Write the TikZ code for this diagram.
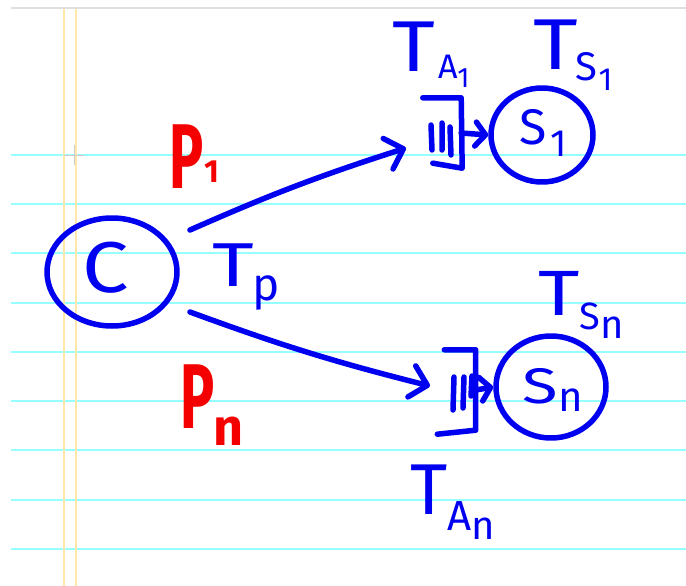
\documentclass[tikz,border=0pt]{standalone}
\usepackage{fontspec}
\setmainfont{Fira Sans}
\usetikzlibrary{arrows.meta,shapes.geometric}
\definecolor{ink}{RGB}{0,0,240}
\definecolor{redink}{RGB}{245,0,0}
\definecolor{ruleline}{RGB}{150,255,255}
\definecolor{marginline}{RGB}{255,232,170}
\newcommand{\fsz}[1]{\fontsize{#1}{#1}\selectfont}
\begin{document}
\begin{tikzpicture}[x=1pt,y=-1pt,
  pen/.style={draw=ink, line width=5.5pt, line cap=round, line join=round},
  arr/.style={pen, -{Straight Barb[length=16pt,width=32pt,line cap=round,line join=round]}},
  sarr/.style={pen, -{Straight Barb[length=10pt,width=24pt,line cap=round,line join=round]}},
  server/.style={pen, ellipse, inner sep=0pt},
  queuebox/.style={inner sep=0pt, minimum width=#1},
  lbl/.style={text=ink, inner sep=0pt, font=\mdseries},
  plbl/.style={text=redink, inner sep=0pt, font=\bfseries}]
\fill[white] (0,0) rectangle (686,586);
\useasboundingbox (0,0) rectangle (686,586);
% paper
\draw[gray!25, line width=1.5pt] (11,8) -- (686,8);
\foreach \yy in {155,204,253,303,352,401,450,500,549}
  \draw[ruleline, line width=1.5pt] (11,\yy) -- (686,\yy);
\draw[marginline, line width=1.5pt] (64,9) -- (64,586);
\draw[marginline, line width=1.5pt] (76,9) -- (76,586);
\draw[gray!40, line width=1pt] (64,155) -- (84,155) (74,145) -- (74,165);
% client
\node (c) [server, minimum width=130pt, minimum height=108pt] at (112,272) {};
\node (ct) [lbl] at (106,268) {\fsz{72}\scalebox{1.15}[1]{C}};
% servers
\node (s1) [server, minimum width=102pt, minimum height=94pt] at (542,135) {};
\node (s1t) [lbl] at (543,133) {\fsz{50}S\hspace{4pt}\raisebox{-12pt}{\fsz{38}1}};
\node (sn) [server, minimum width=110pt, minimum height=102pt] at (551,387) {};
\node (snt) [lbl] at (553,390) {\fsz{50}\scalebox{1.3}[1]{S}\raisebox{-8pt}{\fsz{42}n}};
% queues
\node (q1) [queuebox=38pt, minimum height=70pt] at (442,133) {};
\draw[pen] (q1.north west) -- (q1.north east) -- ([xshift=1pt]q1.south east) -- ([xshift=10pt,yshift=5pt]q1.south west);
\draw[pen] ([xshift=-10pt,yshift=-17pt]q1.center) -- ([xshift=-11pt,yshift=8pt]q1.center)
           ([xshift=0pt,yshift=-17pt]q1.center) -- ([xshift=0pt,yshift=10pt]q1.center)
           ([xshift=9pt,yshift=-22pt]q1.center) -- ([xshift=8pt,yshift=6pt]q1.center);
\node (qn) [queuebox=31pt, minimum height=80pt] at (460,390) {};
\draw[pen] (qn.north west) -- (qn.north east) -- (qn.south east) -- ([xshift=-7pt,yshift=-4pt]qn.south west);
\draw[pen] ([xshift=-7pt,yshift=-20pt]qn.center) -- ([xshift=-6pt,yshift=13pt]qn.center)
           ([xshift=3pt,yshift=-18pt]qn.center) -- ([xshift=4pt,yshift=13pt]qn.center)
           ([xshift=11pt,yshift=-6pt]qn.center) -- ([xshift=12pt,yshift=14pt]qn.center);
% connectors
\coordinate (a1s) at (190,230);
\coordinate (a1e) at (406,148);
\coordinate (a2s) at (190,312);
\coordinate (a2e) at (430,386);
\draw[arr] (a1s) to[bend left=3] (a1e);
\draw[arr] (a2s) to[bend right=3] (a2e);
\draw[sarr] (q1.east) -- (s1.west);
\draw[sarr] (qn.east) -- (sn.west);
% labels
\node (ta1) [lbl, anchor=base west] at (392,72) {\fsz{72}\scalebox{1.15}[1]{T}\hspace{3pt}\raisebox{-7pt}{\fsz{34}A\raisebox{-9pt}{\fsz{28}1}}};
\node (ts1) [lbl, anchor=base west] at (533,70) {\fsz{72}\scalebox{1.2}[1]{T}\hspace{-2pt}\raisebox{-11pt}{\fsz{40}S\hspace{1pt}\raisebox{-10pt}{\fsz{32}1}}};
\node (tp) [lbl, anchor=base west] at (212,286) {\fsz{62}\scalebox{1.3}[1]{T}\hspace{-1pt}\raisebox{-14pt}{\fsz{46}p}};
\node (tsn) [lbl, anchor=base west] at (538,315) {\fsz{64}\scalebox{1.25}[1]{T}\raisebox{-14pt}{\fsz{38}S\raisebox{-9pt}{\fsz{40}n}}};
\node (tan) [lbl, anchor=base west] at (410,514) {\fsz{72}\scalebox{1.0}[1]{T}\raisebox{-16pt}{\fsz{42}A\raisebox{-9pt}{\fsz{40}n}}};
\node (p1) [plbl, anchor=base west] at (169,188) {\fsz{92}\scalebox{0.62}[1]{P}\hspace{1pt}\raisebox{6pt}{\fsz{32}1}};
\node (pn) [plbl, anchor=base west] at (180,428) {\fsz{92}\scalebox{0.62}[1]{P}\hspace{-1pt}\raisebox{-17pt}{\fsz{52}n}};
\end{tikzpicture}
\end{document}
